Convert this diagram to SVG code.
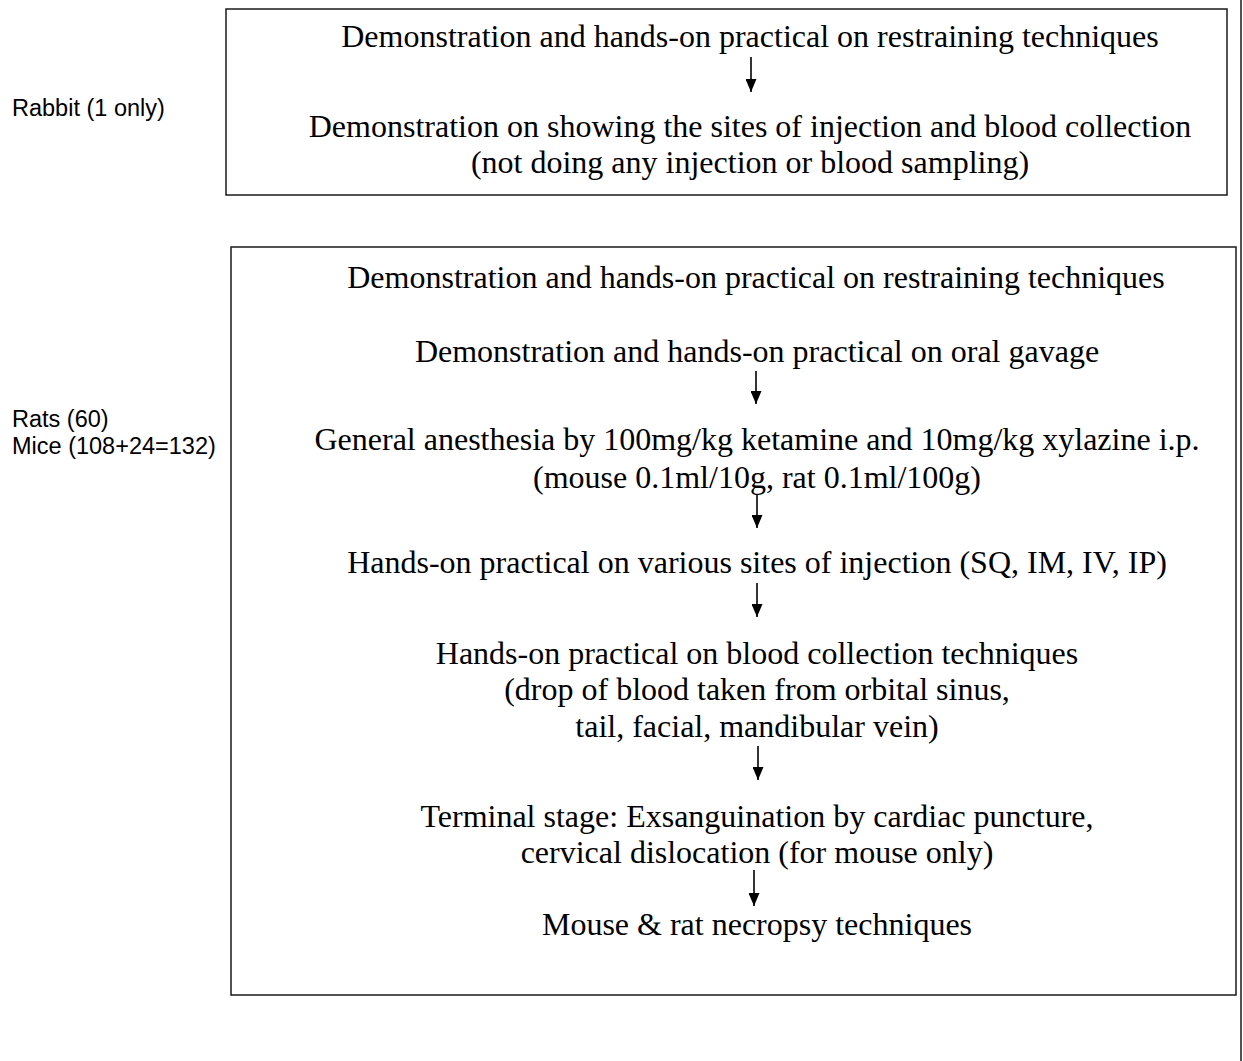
<svg xmlns="http://www.w3.org/2000/svg" width="1243" height="1061" viewBox="0 0 1243 1061">
<style>
.box{fill:none;stroke:#1a1a1a;stroke-width:1.5}
.t{font-family:"Liberation Serif","Times New Roman",serif;font-size:32px;fill:#000;text-anchor:middle}
.lbl{font-family:"Liberation Sans",Arial,sans-serif;font-size:23.5px;fill:#000}
.arr{stroke:#000;stroke-width:1.6;fill:none;marker-end:url(#ah)}
</style>
<defs>
<marker id="ah" markerUnits="userSpaceOnUse" markerWidth="13" markerHeight="11" refX="13" refY="5.5" orient="auto">
<path d="M0,0 L13,5.5 L0,11 z" fill="#000"/>
</marker>
</defs>
<rect width="1243" height="1061" fill="#fff"/>
<line x1="1241" y1="0" x2="1241" y2="1061" stroke="#1a1a1a" stroke-width="1.5"/>
<g id="label-rabbit"><text class="lbl" x="12" y="116">Rabbit (1 only)</text></g>
<g id="label-rats-mice"><text class="lbl" x="12" y="427">Rats (60)</text><text class="lbl" x="12" y="454">Mice (108+24=132)</text></g>
<g id="rabbit-box">
<rect class="box" x="226" y="9" width="1001" height="186"/>
<text class="t" x="750" y="47">Demonstration and hands-on practical on restraining techniques</text>
<text class="t" x="750" y="137">Demonstration on showing the sites of injection and blood collection</text>
<text class="t" x="750" y="173">(not doing any injection or blood sampling)</text>
</g>
<g id="rodent-box">
<rect class="box" x="231" y="247" width="1005" height="748"/>
<text class="t" x="756" y="288">Demonstration and hands-on practical on restraining techniques</text>
<text class="t" x="757" y="362">Demonstration and hands-on practical on oral gavage</text>
<text class="t" x="757" y="450">General anesthesia by 100mg/kg ketamine and 10mg/kg xylazine i.p.</text>
<text class="t" x="757" y="488">(mouse 0.1ml/10g, rat 0.1ml/100g)</text>
<text class="t" x="757" y="573">Hands-on practical on various sites of injection (SQ, IM, IV, IP)</text>
<text class="t" x="757" y="664">Hands-on practical on blood collection techniques</text>
<text class="t" x="757" y="700">(drop of blood taken from orbital sinus,</text>
<text class="t" x="757" y="737">tail, facial, mandibular vein)</text>
<text class="t" x="757" y="827">Terminal stage: Exsanguination by cardiac puncture,</text>
<text class="t" x="757" y="863">cervical dislocation (for mouse only)</text>
<text class="t" x="757" y="935">Mouse &amp; rat necropsy techniques</text>
</g>
<g id="connectors">
<line class="arr" x1="751" y1="57" x2="751" y2="92"/>
<line class="arr" x1="756" y1="371" x2="756" y2="404"/>
<line class="arr" x1="757" y1="495" x2="757" y2="528"/>
<line class="arr" x1="757" y1="583" x2="757" y2="617"/>
<line class="arr" x1="758" y1="746" x2="758" y2="780"/>
<line class="arr" x1="754" y1="870" x2="754" y2="906"/>
</g>
</svg>
